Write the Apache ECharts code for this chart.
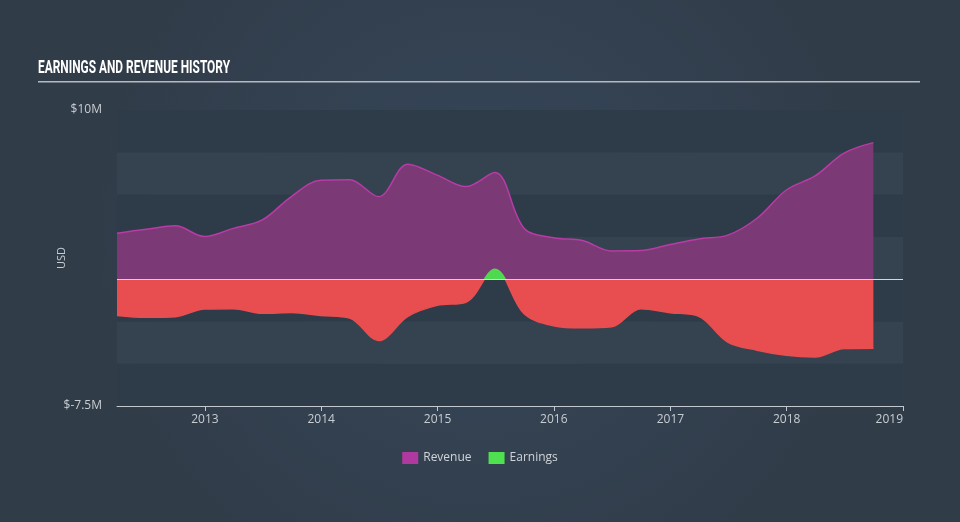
<!DOCTYPE html>
<html>
<head>
<meta charset="utf-8">
<script src="https://cdn.jsdelivr.net/npm/echarts@6/dist/echarts.min.js"></script>
<style>
html,body{margin:0;padding:0;background:#333f4d;}
#chart{width:960px;height:522px;}
</style>
</head>
<body>
<div id="chart"></div>
<script>
// Quarter-end dates
var dates = ['2012-03-31','2012-06-30','2012-09-30','2012-12-31',
             '2013-03-31','2013-06-30','2013-09-30','2013-12-31',
             '2014-03-31','2014-06-30','2014-09-30','2014-12-31',
             '2015-03-31','2015-06-30','2015-09-30','2015-12-31',
             '2016-03-31','2016-06-30','2016-09-30','2016-12-31',
             '2017-03-31','2017-06-30','2017-09-30','2017-12-31',
             '2018-03-31','2018-06-30','2018-09-30'];
// Values in USD millions
var revenue = [2.72, 2.95, 3.15, 2.52,
               3.00, 3.50, 4.90, 5.85,
               5.88, 4.88, 6.80, 6.15,
               5.47, 6.30, 3.00, 2.45,
               2.28, 1.67, 1.69, 2.05,
               2.38, 2.60, 3.60, 5.27,
               6.10, 7.45, 8.07];
var earnings = [-2.15, -2.26, -2.22, -1.77,
                -1.75, -2.02, -1.97, -2.15,
                -2.30, -3.63, -2.20, -1.55,
                -1.37, 0.59, -2.05, -2.75,
                -2.88, -2.82, -1.75, -1.98,
                -2.20, -3.72, -4.20, -4.50,
                -4.60, -4.10, -4.08];
var yTickLabels = {'10000000': '$10M', '-7500000': '$-7.5M'};
var titleText = 'EARNINGS AND REVENUE HISTORY';

function pairs(vals) {
  return dates.map(function (d, i) { return [d, vals[i] * 1e6]; });
}

// measure title to fit the condensed look
var titleFont = 'bold 19px Roboto';
var cv = document.createElement('canvas').getContext('2d');
cv.font = titleFont;
var tw = cv.measureText(titleText).width || 300;
var titleScale = 192 / tw;

var chart = echarts.init(document.getElementById('chart'));
chart.setOption({
  backgroundColor: {
    type: 'radial', x: 0.5, y: 0.45, r: 0.75,
    colorStops: [{offset: 0, color: '#36475a'}, {offset: 1, color: '#313c49'}]
  },
  animation: false,
  graphic: [
    {type: 'text', x: 38, y: 68, scaleX: titleScale,
     style: {text: titleText, font: titleFont, fill: '#ffffff', verticalAlign: 'middle'}},
    {type: 'rect', shape: {x: 38, y: 81, width: 882, height: 1.5},
     style: {fill: '#b4bac1'}}
  ],
  grid: {left: 117, right: 57, top: 110, bottom: 116},
  legend: {
    bottom: 53, left: 'center',
    icon: 'rect', itemWidth: 16, itemHeight: 12, itemGap: 17,
    textStyle: {color: '#d0d4d8', fontSize: 12, fontFamily: 'Open Sans'},
    data: [{name: 'Revenue', itemStyle: {color: '#b0399f'}},
           {name: 'Earnings', itemStyle: {color: '#4fe04f'}}]
  },
  visualMap: {
    type: 'piecewise', show: false, seriesIndex: 1, dimension: 1,
    pieces: [{gt: 0, lte: 10000000, color: '#4fd94f'},
             {gte: -7500000, lte: 0, color: '#e84e4f'}],
    outOfRange: {color: '#e84e4f'}
  },
  xAxis: {
    type: 'time',
    min: '2012-03-31', max: '2019-01-01',
    splitNumber: 7,
    axisLine: {onZero: false, lineStyle: {color: '#c3c8ce', width: 1}},
    axisTick: {show: true, length: 5, lineStyle: {color: '#c3c8ce'}},
    splitLine: {show: false},
    axisLabel: {color: '#c8cdd2', fontSize: 12, fontFamily: 'Open Sans', margin: 8,
                formatter: '{yyyy}', showMinLabel: false, showMaxLabel: true,
                alignMaxLabel: 'right'}
  },
  yAxis: {
    type: 'value', min: -7500000, max: 10000000, interval: 2500000,
    name: 'USD', nameLocation: 'middle', nameGap: 50, nameRotate: 90,
    nameMoveOverlap: false,
    nameTextStyle: {color: '#c8cdd2', fontSize: 11, fontFamily: 'Open Sans'},
    axisLine: {show: false}, axisTick: {show: false},
    splitLine: {show: false},
    splitArea: {show: true, areaStyle: {color: ['#2e3b49', '#34434f']}},
    axisLabel: {color: '#c8cdd2', fontSize: 12, fontFamily: 'Open Sans', margin: 15,
                formatter: function (v) { return yTickLabels[String(v)] || ''; }}
  },
  series: [
    {
      name: 'Revenue', type: 'line', smooth: 0.35, symbol: 'none', z: 2,
      data: pairs(revenue),
      itemStyle: {color: '#b0399f'},
      lineStyle: {color: '#b83ba6', width: 1.5},
      areaStyle: {color: '#7b3a76', opacity: 1},
      markLine: {
        silent: true, symbol: 'none', label: {show: false},
        lineStyle: {color: '#d4d8dc', width: 1, type: 'solid'},
        data: [{yAxis: 0}]
      }
    },
    {
      name: 'Earnings', type: 'line', smooth: 0.35, symbol: 'none', z: 3,
      data: pairs(earnings),
      itemStyle: {color: '#4fe04f'},
      lineStyle: {width: 1.5},
      areaStyle: {opacity: 1}
    }
  ]
});
</script>
</body>
</html>
